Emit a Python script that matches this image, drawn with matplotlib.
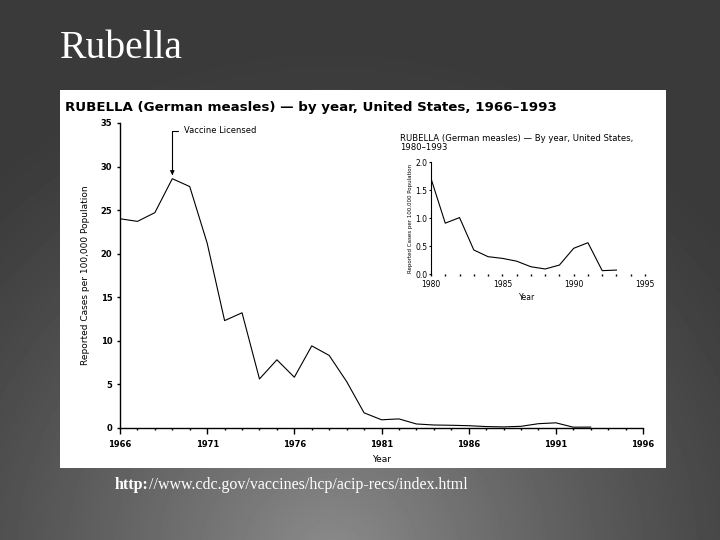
import numpy as np
import matplotlib
matplotlib.use("Agg")
import matplotlib.pyplot as plt
from matplotlib.patches import Rectangle
from matplotlib.ticker import MultipleLocator

# --- dati (casi per 100.000 abitanti) ---
years = [1966, 1967, 1968, 1969, 1970, 1971, 1972, 1973, 1974, 1975,
         1976, 1977, 1978, 1979, 1980, 1981, 1982, 1983, 1984, 1985,
         1986, 1987, 1988, 1989, 1990, 1991, 1992, 1993]
rates = [24.0, 23.7, 24.7, 28.6, 27.7, 21.2, 12.3, 13.2, 5.6, 7.8,
         5.8, 9.4, 8.3, 5.3, 1.71, 0.91, 1.01, 0.43, 0.31, 0.28,
         0.23, 0.13, 0.09, 0.16, 0.46, 0.56, 0.06, 0.07]

main_xticks = [1966, 1971, 1976, 1981, 1986, 1991, 1996]
main_yticks = [0, 5, 10, 15, 20, 25, 30, 35]
inset_xticks = [1980, 1985, 1990, 1995]
inset_yticks = [0.0, 0.5, 1.0, 1.5, 2.0]

vaccine_year = 1969
vaccine_val = 29.0

W, H = 720, 540
fig = plt.figure(figsize=(7.2, 5.4), dpi=100)

# sfondo grigio sfumato
bg = fig.add_axes([0, 0, 1, 1], zorder=-10)
yy, xx = np.mgrid[0:H, 0:W]
d = np.sqrt((xx - 330) ** 2 + (yy - 560) ** 2)
val = 58 + 82 * np.clip(1 - d / 520, 0, 1) ** 1.3
bg.imshow(val, cmap="gray", vmin=0, vmax=255, aspect="auto",
          extent=[0, 1, 0, 1], origin="upper")
bg.axis("off")

fig.text(60 / W, 1 - 58 / H, "Rubella", color="white", fontsize=28.5,
         family="Liberation Serif", va="baseline", ha="left")

# pannello bianco
fig.patches.append(Rectangle((60 / W, 1 - 468 / H), 606 / W, 378 / H,
                             transform=fig.transFigure, facecolor="white",
                             edgecolor="none", zorder=-5))

fig.text(65 / W, 1 - 107 / H,
         "RUBELLA (German measles) \u2014 by year, United States, 1966\u20131993",
         fontsize=9.6, weight="bold", family="DejaVu Sans",
         va="center", ha="left")

# URL: "http:" in grassetto, il resto subito dopo
t_http = fig.text(115 / W, 1 - 485 / H, "http:", color="white", fontsize=11.5,
                  family="Liberation Serif", weight="bold",
                  va="center", ha="left")
fig.canvas.draw()
x_end = t_http.get_window_extent().x1 / W
fig.text(x_end, 1 - 485 / H, "//www.cdc.gov/vaccines/hcp/acip-recs/index.html",
         color="white", fontsize=11.5, family="Liberation Serif",
         va="center", ha="left")

# --- grafico principale ---
ax = fig.add_axes([120 / W, 1 - 427.7 / H, 523 / W, 304.7 / H])
ax.plot(years, rates, color="black", lw=0.8)
ax.set_xlim(1966, 1996)
ax.set_ylim(0, 35)
ax.patch.set_alpha(0)
for s in ["top", "right"]:
    ax.spines[s].set_visible(False)
for s in ["left", "bottom"]:
    ax.spines[s].set_linewidth(1.0)
ax.set_xticks(main_xticks)
ax.set_yticks(main_yticks)
ax.xaxis.set_minor_locator(MultipleLocator(1))
ax.tick_params(axis="x", which="major", length=4, width=1, pad=5,
               labelsize=6)
ax.tick_params(axis="x", which="minor", length=1.5, width=1)
ax.tick_params(axis="y", length=2.5, width=1, pad=3, labelsize=6)
for lab in ax.get_xticklabels() + ax.get_yticklabels():
    lab.set_fontweight("bold")
ax.set_xlabel("Year", fontsize=6.5, labelpad=4)
ax.set_ylabel("Reported Cases per 100,000 Population", fontsize=6.5,
              labelpad=8)

ax.annotate("Vaccine Licensed", xy=(vaccine_year, vaccine_val),
            xytext=(vaccine_year + 0.65, 34.1), fontsize=6, va="center",
            arrowprops=dict(arrowstyle="-|>", color="black", lw=0.8,
                            shrinkA=2, shrinkB=0, mutation_scale=6,
                            relpos=(0, 0.5),
                            connectionstyle="angle,angleA=0,angleB=90,rad=0"))

# --- riquadro 1980-1993 ---
i80 = years.index(1980)
axi = fig.add_axes([431 / W, 1 - 274 / H, 214 / W, 111.7 / H])
axi.plot(years[i80:], rates[i80:], color="black", lw=0.8)
axi.set_xlim(1980, 1995)
axi.set_ylim(0, 2.0)
axi.patch.set_alpha(0)
for s in ["top", "right", "bottom"]:
    axi.spines[s].set_visible(False)
axi.spines["left"].set_linewidth(0.8)
axi.set_xticks(inset_xticks)
axi.set_yticks(inset_yticks)
axi.set_yticklabels([f"{v:.1f}" for v in inset_yticks])
axi.xaxis.set_minor_locator(MultipleLocator(1))
axi.tick_params(axis="x", which="both", length=1.5, width=1, pad=3,
                labelsize=5.5)
axi.tick_params(axis="y", length=1.5, width=0.8, pad=1, labelsize=5.5)
axi.set_xlabel("Year", fontsize=5.5, labelpad=1)
axi.xaxis.set_label_coords(0.45, -0.17)
axi.set_ylabel("Reported Cases per 100,000 Population", fontsize=4,
               labelpad=2)
fig.text(400 / W, 1 - 134 / H,
         "RUBELLA (German measles) \u2014 By year, United States,\n1980\u20131993",
         fontsize=6.1, va="top", ha="left", linespacing=1.0)

fig.savefig("out.png", dpi=100)
